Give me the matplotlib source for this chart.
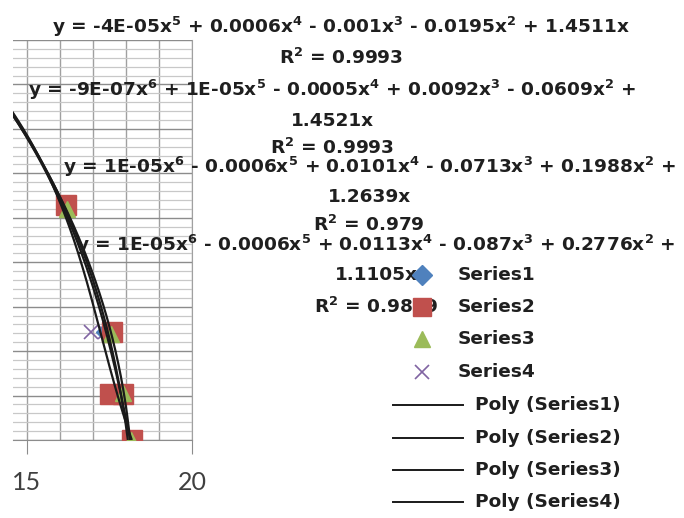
import numpy as np
import matplotlib
matplotlib.use("Agg")
import matplotlib.pyplot as plt
from matplotlib.ticker import MultipleLocator

plt.rcParams['font.family'] = ['DejaVu Sans']
plt.rcParams['mathtext.fontset'] = 'custom'
plt.rcParams['mathtext.rm'] = 'DejaVu Sans:bold'
plt.rcParams['mathtext.it'] = 'DejaVu Sans:bold'
plt.rcParams['mathtext.bf'] = 'DejaVu Sans:bold'
plt.rcParams['mathtext.default'] = 'regular'

# ---- data -----------------------------------------------------------
s1_x = [13.20, 14.05, 16.18, 17.35, 17.84, 18.15]
s1_y = [8.75, 7.75, 5.24, 2.43, 1.00, 0.00]

s2_x = [13.15, 14.10, 16.18, 17.58, 17.52, 17.91, 18.18]
s2_y = [8.85, 7.70, 5.29, 2.43, 1.04, 1.04, 0.00]

s3_x = [13.30, 14.00, 16.22, 17.55, 17.91, 18.14]
s3_y = [8.65, 7.85, 5.20, 2.38, 1.06, 0.00]

s4_x = [13.25, 14.05, 16.20, 16.94, 17.35, 17.84, 18.15]
s4_y = [8.70, 7.75, 5.25, 2.43, 2.43, 1.05, 0.00]

series_names = ["Series1", "Series2", "Series3", "Series4"]
trend_names = ["Poly (Series1)", "Poly (Series2)", "Poly (Series3)", "Poly (Series4)"]

equations = [
    ["y = -4E-05x$^5$ + 0.0006x$^4$ - 0.001x$^3$ - 0.0195x$^2$ + 1.4511x",
     "R$^2$ = 0.9993"],
    ["y = -9E-07x$^6$ + 1E-05x$^5$ - 0.0005x$^4$ + 0.0092x$^3$ - 0.0609x$^2$ +",
     "1.4521x",
     "R$^2$ = 0.9993"],
    ["y = 1E-05x$^6$ - 0.0006x$^5$ + 0.0101x$^4$ - 0.0713x$^3$ + 0.1988x$^2$ +",
     "1.2639x",
     "R$^2$ = 0.979"],
    ["y = 1E-05x$^6$ - 0.0006x$^5$ + 0.0113x$^4$ - 0.087x$^3$ + 0.2776x$^2$ +",
     "1.1105x",
     "R$^2$ = 0.9889"],
]

x_ticks = [15, 20]

# ---- styling ---------------------------------------------------------
W, H = 684, 518
colors = ["#4F81BD", "#C0504D", "#9BBB59", "#8064A2"]
markers = ["D", "s", "^", "x"]
msizes = [9, 14, 12, 10]
text_col = "#1f1f1f"
fs = 13.3

fig = plt.figure(figsize=(W / 100, H / 100), dpi=100)
ax = fig.add_axes([13 / W, 1 - 440 / H, (192 - 13) / W, 400 / H])
ax.set_xlim(14.576, 20)
ax.set_ylim(0, 9)

ax.xaxis.set_major_locator(MultipleLocator(5))
ax.xaxis.set_minor_locator(MultipleLocator(1))
ax.yaxis.set_major_locator(MultipleLocator(1))
ax.yaxis.set_minor_locator(MultipleLocator(0.2))
ax.grid(which='major', axis='y', color='#8c8c8c', lw=1.0)
ax.grid(which='minor', axis='y', color='#c8c8c8', lw=0.9)
ax.grid(which='both', axis='x', color='#a0a0a0', lw=1.0)
ax.set_axisbelow(True)
for side in ['left', 'top']:
    ax.spines[side].set_visible(False)
ax.spines['right'].set_color('#a0a0a0')
ax.spines['bottom'].set_color('#8c8c8c')
ax.tick_params(axis='y', which='both', left=False, labelleft=False)
ax.tick_params(axis='x', which='major', length=10, color='#8c8c8c',
               labelsize=18, labelcolor='#404040', pad=12)
ax.tick_params(axis='x', which='minor', length=0)
ax.set_xticks(x_ticks)
ax.set_xticklabels([str(t) for t in x_ticks], fontfamily='Lato')

xs = [s1_x, s2_x, s3_x, s4_x]
ys = [s1_y, s2_y, s3_y, s4_y]
zorders = [3, 4, 5, 2]

# polynomial trend lines (x as a function of y)
y_grid = np.linspace(0, 9.5, 300)
for x, y in zip(xs, ys):
    coef = np.polyfit(y, x, 3)
    ax.plot(np.polyval(coef, y_grid), y_grid, color='#1a1a1a', lw=1.6,
            zorder=6, solid_capstyle='butt')

for x, y, c, m, ms, z in zip(xs, ys, colors, markers, msizes, zorders):
    kw = dict(markeredgewidth=1.2) if m == 'x' else dict(markeredgecolor=c)
    ax.plot(x, y, linestyle='none', marker=m, color=c, markersize=ms,
            zorder=z, clip_on=True, **kw)

# ---- overlay in pixel units for labels and legend --------------------
ov = fig.add_axes([0, 0, 1, 1], zorder=10)
ov.set_xlim(0, W)
ov.set_ylim(H, 0)
ov.axis('off')
ov.patch.set_alpha(0)

eq_centers = [341, 332, 369, 376]
eq_rows = [[27, 58], [90, 121, 148], [167, 197, 225], [245, 275, 307]]
for lines, cx, rows in zip(equations, eq_centers, eq_rows):
    for s, yy in zip(lines, rows):
        ov.text(cx, yy, s, ha='center', va='center', fontsize=fs,
                fontweight='bold', color=text_col, zorder=1)

leg_rows = [275, 307, 339, 372, 405, 438, 470, 502]
for i, name in enumerate(series_names):
    m = markers[i]
    kw = dict(markeredgewidth=1.2) if m == 'x' else dict(markeredgecolor=colors[i])
    ov.plot([422], [leg_rows[i]], linestyle='none', marker=m, color=colors[i],
            markersize=[10, 13, 12, 10][i], zorder=5, **kw)
    ov.text(458, leg_rows[i], name, ha='left', va='center', fontsize=fs,
            fontweight='bold', color=text_col, zorder=5)
for j, name in enumerate(trend_names):
    yy = leg_rows[4 + j]
    ov.plot([393, 463], [yy, yy], color='#1a1a1a', lw=1.4, zorder=5)
    ov.text(475, yy, name, ha='left', va='center', fontsize=fs,
            fontweight='bold', color=text_col, zorder=5)

fig.savefig("out.png", dpi=100)
